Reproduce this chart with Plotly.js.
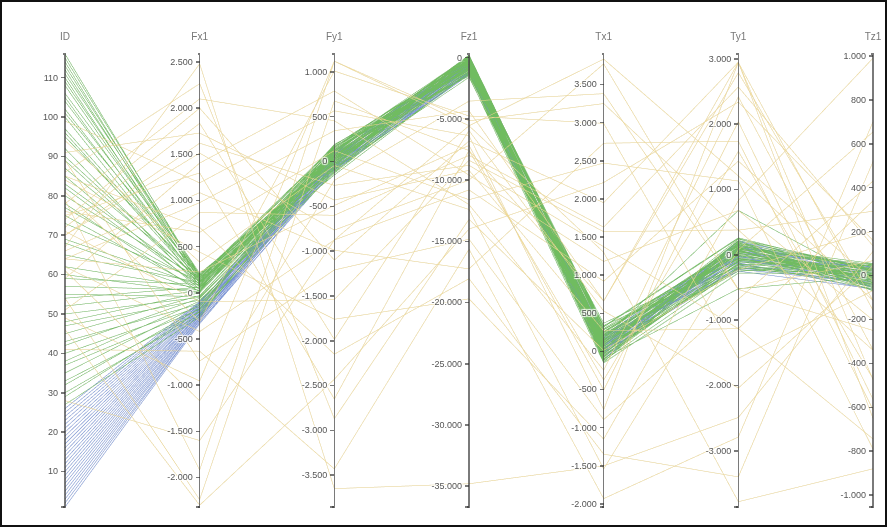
<!DOCTYPE html>
<html><head><meta charset="utf-8">
<script src="https://cdn.plot.ly/plotly-3.0.1.min.js"></script>
<style>
html,body{margin:0;padding:0;background:#fff;overflow:hidden}
#chart{position:absolute;left:0;top:0;width:887px;height:529px}
#chart canvas{filter:blur(0.5px)}
#chart .axis path.domain,#chart .axis .tick line{stroke:#333 !important;stroke-opacity:0.65 !important;stroke-width:1.5px !important}
#frame{position:absolute;left:0;top:0;width:887px;height:527px;box-sizing:border-box;border:2px solid #111;pointer-events:none}
</style></head><body>
<div id="chart"></div><div id="frame"></div>
<script>
// ---- axis labels ----
const dimLabels = ['ID', 'Fx1', 'Fy1', 'Fz1', 'Tx1', 'Ty1', 'Tz1'];

// ---- axis ranges ----
const idRange = [1, 116];
const fxRange = [-2320, 2586];
const fyRange = [-3855, 1200];
const fzRange = [-36700, 300];
const txRange = [-2040, 3900];
const tyRange = [-3861, 3075];
const tzRange = [-1054, 1009];

// ---- tick values / labels (axis ends carry an empty label) ----
const idTicks = [1,10,20,30,40,50,60,70,80,90,100,110,116];
const idTickText = ['','10','20','30','40','50','60','70','80','90','100','110',''];
const fxTicks = [-2320,-2000,-1500,-1000,-500,0,500,1000,1500,2000,2500,2586];
const fxTickText = ['','-2.000','-1.500','-1.000','-500','0','500','1.000','1.500','2.000','2.500',''];
const fyTicks = [-3855,-3500,-3000,-2500,-2000,-1500,-1000,-500,0,500,1000,1200];
const fyTickText = ['','-3.500','-3.000','-2.500','-2.000','-1.500','-1.000','-500','0','500','1.000',''];
const fzTicks = [-36700,-35000,-30000,-25000,-20000,-15000,-10000,-5000,0,300];
const fzTickText = ['','-35.000','-30.000','-25.000','-20.000','-15.000','-10.000','-5.000','0',''];
const txTicks = [-2040,-2000,-1500,-1000,-500,0,500,1000,1500,2000,2500,3000,3500,3900];
const txTickText = ['','-2.000','-1.500','-1.000','-500','0','500','1.000','1.500','2.000','2.500','3.000','3.500',''];
const tyTicks = [-3861,-3000,-2000,-1000,0,1000,2000,3000,3075];
const tyTickText = ['','-3.000','-2.000','-1.000','0','1.000','2.000','3.000',''];
const tzTicks = [-1054,-1000,-800,-600,-400,-200,0,200,400,600,800,1000,1009];
const tzTickText = ['','-1.000','-800','-600','-400','-200','0','200','400','600','800','1.000',''];

// ---- group A (blue) ----
const blueID = [1,2,3,4,5,6,7,8,9,10,11,12,13,14,15,16,17,18,19,20,21,22,23,24,25,26];
const blueFx = [-335,-320,-318,-300,-295,-282,-270,-265,-250,-244,-230,-222,-215,-200,-195,-183,-175,-168,-155,-150,-140,-128,-122,-110,-105,-95];
const blueFy = [-60,-20,-90,20,-40,60,-30,40,-70,80,-50,0,100,-10,50,-80,70,-30,90,10,120,30,-100,110,40,-20];
const blueFz = [-1200,-900,-1400,-700,-1100,-500,-850,-400,-1300,-300,-1000,-600,-200,-800,-450,-1150,-350,-650,-950,-550,-150,-750,-1250,-250,-500,-700];
const blueTx = [120,60,200,-40,150,10,90,-100,170,40,230,-60,110,20,180,-20,70,140,-80,100,30,210,-10,80,160,0];
const blueTy = [-150,50,-250,120,-80,200,-20,90,-200,150,-120,30,180,-60,100,-180,60,-30,220,-100,10,140,-220,70,-50,110];
const blueTz = [-40,10,-60,20,-20,35,-50,0,-30,25,-65,15,-10,30,-45,5,-25,40,-55,10,-15,20,-35,0,-5,25];

// ---- group B (green) ----
const greenID = [27,29,30,32,33,35,37,38,40,42,
                 43,45,47,48,50,52,54,55,57,59,
                 60,62,65,68,69,73,75,77,78,80,
                 82,83,85,87,89,90,92,95,96,97,
                 100,101,102,104,105,106,108,109,110,111,
                 112,113,114,115,116];
const greenFx = [-260,-200,-240,-170,-210,-130,-180,-90,-150,-60,
                 -120,-30,-80,0,-50,20,60,-40,30,90,
                 0,50,110,20,80,130,40,100,10,150,
                 70,120,40,160,90,130,60,180,110,140,
                 80,190,120,160,100,200,140,170,110,210,
                 150,180,130,190,165];
const greenFy = [120,-40,60,180,-110,20,150,-80,90,-10,
                 170,40,-130,110,0,70,-60,140,30,-150,
                 100,50,-20,160,80,-90,130,10,190,-50,
                 60,120,-100,30,150,-30,90,170,0,-70,
                 110,40,-120,140,70,-10,180,20,100,-40,
                 60,130,-80,50,160];
const greenFz = [-400,100,-900,-200,-1300,50,-600,-1000,200,-300,
                 -1500,-100,-700,150,-1100,-450,0,-800,-250,-1200,
                 120,-550,-950,-150,-1400,80,-650,-350,-1050,180,
                 -500,-850,-50,-1250,-300,220,-750,-1000,-200,-600,
                 60,-1150,-400,-900,140,-700,-250,-1350,-100,-500,
                 30,-800,-1600,-350,100];
const greenTx = [250,-50,120,320,-120,60,200,-10,150,280,
                 -150,90,30,230,-80,170,340,0,110,-100,
                 260,40,190,-30,130,300,-60,80,220,10,
                 160,370,-140,100,50,240,-90,140,290,20,
                 180,-40,70,210,-110,120,330,-20,90,260,
                 0,150,60,-70,200];
const greenTy = [150,-100,40,250,-200,80,-20,180,-150,100,
                 -280,30,220,-60,120,680,-180,60,200,-90,
                 140,-250,10,170,-40,90,-130,240,50,-210,
                 110,-70,190,20,-160,130,-520,70,-10,210,
                 -110,160,-230,0,100,-50,260,-190,80,30,
                 -80,180,120,-140,60];
const greenTz = [20,-30,45,-10,0,-55,30,-20,55,-40,
                 10,-65,25,-5,40,-35,15,-50,5,35,
                 -25,50,-15,-45,20,0,-60,30,-10,45,
                 -30,10,-50,25,-20,55,-5,-40,15,-70,
                 35,-25,5,-55,40,-15,20,-35,50,-10,
                 0,30,-45,15,-30];

// ---- group C (yellow, scattered) ----
const yelID = [70,67,74,79,64,84,54,46,91,61,99,41,76,71,28,86,81,64,89,59,72,51,94,66,70,78,49,85,62,75];
const yelFx = [1513,2480,2000,-1920,976,440,-2240,-2300,1730,-1170,1190,-633,655,-97,-1600,2265,-311,225,-740,1405,1835,870,333,1084,1620,2100,-955,708,-420,1298];
const yelFy = [-765,-3650,-1100,1120,344,-1760,676,-2430,-430,-210,566,-3430,122,-1540,-875,-2870,1010,-490,-1210,787,-1985,-600,-44,-990,-266,455,1120,-2150,-876,-2650];
const yelFz = [-10000,-34800,-6800,-5560,-4350,-19700,-7580,-14000,-9200,-3550,-6370,-15640,-11600,-8380,-10800,-13200,-4760,-7170,-14830,-9590,-5960,-7980,-12400,-17250,-8790,-12000,-5160,-18050,-5560,-7580];
const yelTx = [3770,-1500,1950,1300,660,-1150,-375,2215,270,3380,-764,-1930,2470,1570,920,13,2990,-505,-894,1180,530,1630,-1540,2730,1373,-246,3250,-1347,3833,660];
const yelTy = [-530,-2490,2950,-3780,2790,830,1585,2340,-1130,-530,2945,-2790,1130,380,1435,-226,-1585,2040,-680,680,-2040,2570,75,1740,-1130,2420,378,-3400,1208,2945];
const yelTz = [-250,110,-650,-880,-113,990,-470,160,340,68,-158,700,-790,-340,-23,203,-68,-564,430,-203,45,135,654,-610,-744,-338,293,519,-113,-474];

// group codes used for colouring
const groupCodes = {yellow: 2, blue: 0, green: 1};

const cat = (a, b, c) => a.concat(b, c);
const colorVals = cat(yelID.map(() => groupCodes.yellow), blueID.map(() => groupCodes.blue), greenID.map(() => groupCodes.green));

const dims = [
  {label: dimLabels[0], range: idRange, values: cat(yelID, blueID, greenID), tickvals: idTicks, ticktext: idTickText},
  {label: dimLabels[1], range: fxRange, values: cat(yelFx, blueFx, greenFx), tickvals: fxTicks, ticktext: fxTickText},
  {label: dimLabels[2], range: fyRange, values: cat(yelFy, blueFy, greenFy), tickvals: fyTicks, ticktext: fyTickText},
  {label: dimLabels[3], range: fzRange, values: cat(yelFz, blueFz, greenFz), tickvals: fzTicks, ticktext: fzTickText},
  {label: dimLabels[4], range: txRange, values: cat(yelTx, blueTx, greenTx), tickvals: txTicks, ticktext: txTickText},
  {label: dimLabels[5], range: tyRange, values: cat(yelTy, blueTy, greenTy), tickvals: tyTicks, ticktext: tyTickText},
  {label: dimLabels[6], range: tzRange, values: cat(yelTz, blueTz, greenTz), tickvals: tzTicks, ticktext: tzTickText}
];

const trace = {
  type: 'parcoords',
  line: {
    color: colorVals,
    cmin: 0, cmax: 2,
    colorscale: [[0, 'rgb(118,145,214)'], [0.5, 'rgb(112,188,96)'], [1, 'rgb(241,218,146)']],
    showscale: false
  },
  labelfont: {family: 'Arial, Liberation Sans, sans-serif', size: 10, color: '#777'},
  tickfont: {family: 'Arial, Liberation Sans, sans-serif', size: 9, color: '#555'},
  rangefont: {size: 1, color: 'rgba(0,0,0,0)'},
  dimensions: dims
};

const layout = {
  width: 887, height: 529,
  margin: {l: 65, r: 14, t: 52, b: 20},
  paper_bgcolor: '#fff', plot_bgcolor: '#fff',
  font: {family: 'Arial, Liberation Sans, sans-serif', color: '#444'}
};

Plotly.newPlot('chart', [trace], layout, {displayModeBar: false}).then(function (gd) {
  // pull the axis titles closer to the top of the axes
  gd.querySelectorAll('.axis-title').forEach(function (el) {
    el.setAttribute('transform', 'translate(0,-12)');
  });
});
</script>
</body></html>
